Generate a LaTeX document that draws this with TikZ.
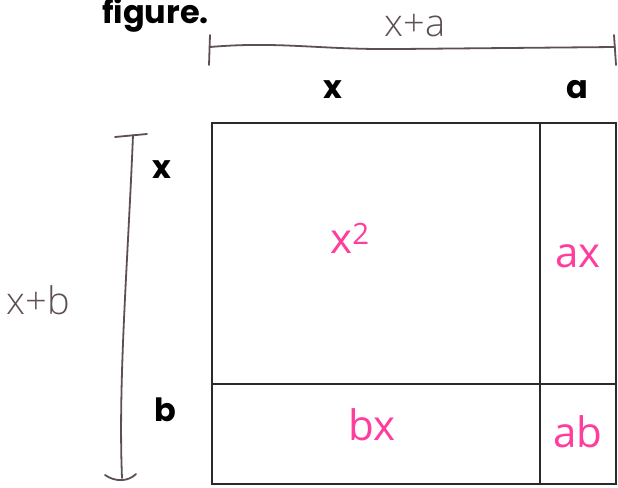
\documentclass[tikz,border=0pt]{standalone}
\usepackage{fontspec}
\setmainfont{Poppins}
\newfontfamily\handfont{Open Sans Light}
\newfontfamily\pinkfont{Open Sans}
\definecolor{hand}{HTML}{5E4E55}
\definecolor{pinkink}{HTML}{FF3D9E}
\definecolor{boxline}{HTML}{2A2A2A}
\begin{document}
\begin{tikzpicture}[x=1pt,y=-1pt,
  lbl/.style={font=\fontsize{32}{34}\selectfont\bfseries, text=black, inner sep=0pt},
  handlbl/.style={font=\handfont\fontsize{38}{40}\selectfont, text=hand, inner sep=0pt},
  pinklbl/.style={font=\pinkfont\fontsize{42}{44}\selectfont, text=pinkink, inner sep=0pt},
  inkline/.style={draw=hand, line width=1.8pt, line cap=round},
  boxedge/.style={draw=boxline, line width=1.3pt},
  divider/.style={draw=boxline, line width=1.1pt}]
\useasboundingbox (0,0) rectangle (618,487);
\clip (0,0) rectangle (618,487);
\fill[white] (0,0) rectangle (618,487);

% cut-off caption text
\node[lbl, anchor=base west] (fig) at (102,24) {figure.};

% area rectangle
\coordinate (tl) at (212,123);
\coordinate (br) at (616,484);
\draw[boxedge] (tl) rectangle (br);
\coordinate (vtop) at (540,123);
\coordinate (vbot) at (540,484);
\coordinate (hl) at (212,384);
\coordinate (hr) at (616,384);
\draw[divider] (vtop) -- (vbot);
\draw[divider] (hl) -- (hr);

% top dimension
\coordinate (ta) at (210,47);
\coordinate (tb) at (615,47);
\coordinate (ta1) at (210,35);
\coordinate (ta2) at (209,65);
\coordinate (tb1) at (614,35);
\coordinate (tb2) at (616,65);
\draw[inkline] (ta) .. controls (280,41) and (320,50) .. (400,49) -- (tb);
\draw[inkline] (ta1) -- (ta2);
\draw[inkline] (tb1) -- (tb2);
\node[handlbl] (xa) at (415,26) {x+a};

% left dimension
\coordinate (la) at (133,135);
\coordinate (lb) at (122,478);
\coordinate (la1) at (115,137);
\coordinate (la2) at (147,134);
\coordinate (lb1) at (105,475);
\coordinate (lb2) at (136,474);
\draw[inkline] (la) .. controls (128,260) and (118,380) .. (lb);
\draw[inkline] (la1) -- (la2);
\draw[inkline] (lb1) .. controls (115,482) and (128,482) .. (lb2);
\node[handlbl] (xb) at (38,300) {x+b};

% side labels
\node[lbl] (lx) at (333,90) {x};
\node[lbl] (la) at (577,90) {a};
\node[lbl] (sx) at (162,170) {x};
\node[lbl] (sb) at (165,410) {b};

% area labels
\node[pinklbl] (x2) at (350,238) {x\textsuperscript{2}};
\node[pinklbl] (ax) at (578,256) {ax};
\node[pinklbl] (bx) at (372,425) {bx};
\node[pinklbl] (ab) at (578,432) {ab};
\end{tikzpicture}
\end{document}
